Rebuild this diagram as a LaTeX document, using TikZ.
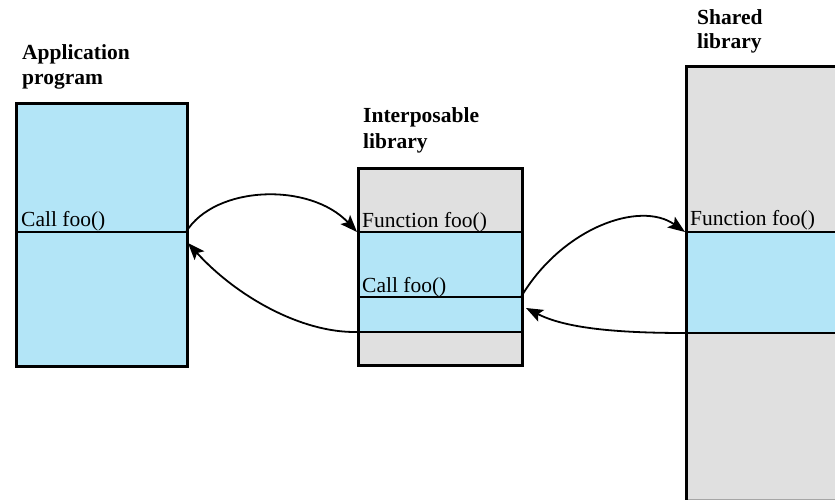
\documentclass[tikz,border=0pt]{standalone}
\usepackage{fontspec}
\setmainfont{Liberation Serif}
\usetikzlibrary{arrows.meta}
\definecolor{bandblue}{RGB}{179,229,247}
\definecolor{libgray}{RGB}{224,224,224}
\tikzset{
  boxframe/.style={draw=black, line width=3pt},
  divider/.style={draw=black, line width=1.4pt},
  lbl/.style={font=\fontsize{21.5}{25}\selectfont\bfseries, anchor=base west, inner sep=0pt},
  txt/.style={font=\fontsize{21.5}{25}\selectfont, anchor=base west, inner sep=0pt},
  callarrow/.style={draw=black, line width=1.8pt, -{Stealth[length=17pt,width=13pt,inset=3.5pt]}}
}
\begin{document}
\begin{tikzpicture}[x=1pt,y=-1pt]
\clip (0,0) rectangle (835,500);
\fill[white] (0,0) rectangle (835,500);
% Application program
\fill[bandblue] (15,102) rectangle (186,365);
\draw[divider] (15,232) -- (186,232);
\node[boxframe, minimum width=171pt, minimum height=263pt, inner sep=0pt, anchor=north west] (app) at (15,102) {};
\coordinate (appcall) at (186,232);
\coordinate (appret) at (188,243);
\node[txt] (appcalltxt) at (21,226) {Call foo()};
\node[lbl] (applbl1) at (22,60) {Application};
\node[lbl] (applbl2) at (22,85) {program};
% Interposable library
\fill[libgray] (357,167) rectangle (521,364);
\fill[bandblue] (357,232) rectangle (521,332);
\draw[divider] (357,232) -- (521,232);
\draw[divider] (357,297) -- (521,297);
\draw[divider] (357,332) -- (521,332);
\node[boxframe, minimum width=164pt, minimum height=197pt, inner sep=0pt, anchor=north west] (interp) at (357,167) {};
\coordinate (intin) at (357,232);
\coordinate (intretfrom) at (357,332);
\coordinate (intcall) at (521,297);
\coordinate (intret) at (526,308);
\node[txt] (intfunctxt) at (362,227) {Function foo()};
\node[txt] (intcalltxt) at (362,292) {Call foo()};
\node[lbl] (intlbl1) at (363,123) {Interposable};
\node[lbl] (intlbl2) at (363,148) {library};
% Shared library
\fill[libgray] (685,65) rectangle (850,499);
\fill[bandblue] (685,232) rectangle (850,333);
\draw[divider] (685,232) -- (850,232);
\draw[divider] (685,333) -- (850,333);
\draw[draw=gray!70, line width=1pt] (685,499) -- (850,499);
\node[boxframe, minimum width=170pt, minimum height=440pt, inner sep=0pt, anchor=north west] (shared) at (685,65) {};
\coordinate (shin) at (685,232);
\coordinate (shret) at (685,333);
\node[txt] (shfunctxt) at (690,225) {Function foo()};
\node[lbl] (shlbl1) at (697,25) {Shared};
\node[lbl] (shlbl2) at (697,49) {library};
% Arrows
\draw[callarrow] (appcall) .. controls (215,185) and (310,182) .. (intin);
\draw[callarrow] (intretfrom) .. controls (300,333) and (235,295) .. (appret);
\draw[callarrow] (intcall) .. controls (562,228) and (640,200) .. (shin);
\draw[callarrow] (shret) .. controls (615,333) and (565,328) .. (intret);
\end{tikzpicture}
\end{document}
